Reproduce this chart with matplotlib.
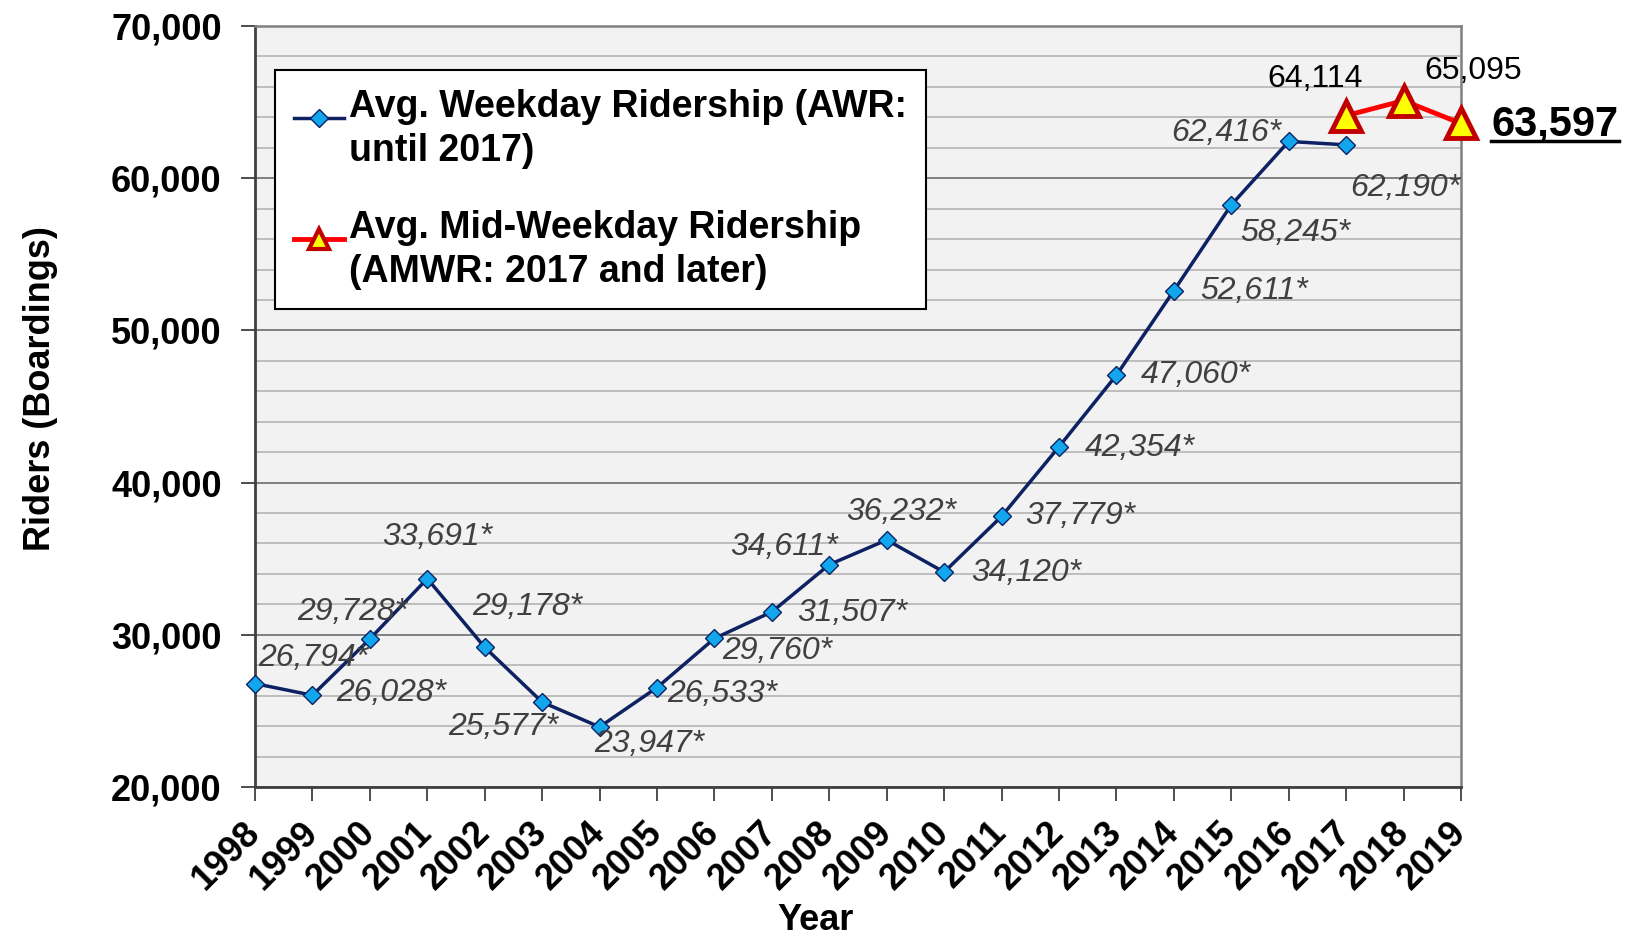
import matplotlib
matplotlib.use("Agg")
import matplotlib.pyplot as plt
from matplotlib.lines import Line2D
from matplotlib.ticker import MultipleLocator
from matplotlib.legend_handler import HandlerLine2D

plt.rcParams['font.family'] = ['Liberation Sans', 'DejaVu Sans']

years = list(range(1998, 2020))
awr_years = list(range(1998, 2018))
awr_values = [26794, 26028, 29728, 33691, 29178, 25577, 23947, 26533, 29760, 31507,
              34611, 36232, 34120, 37779, 42354, 47060, 52611, 58245, 62416, 62190]
amwr_years = [2017, 2018, 2019]
amwr_values = [64114, 65095, 63597]
y_ticks = [20000, 30000, 40000, 50000, 60000, 70000]

legend_labels = ["Avg. Weekday Ridership (AWR:\nuntil 2017)",
                 "Avg. Mid-Weekday Ridership\n(AMWR: 2017 and later)"]

# label placement (pixels from the point)
awr_offsets = [(58, 26), (79, 2), (-18, 27), (10, 42), (43, 40), (-39, -25), (50, -17),
               (65, -6), (63, -13), (80, -1), (-45, 18), (15, 28), (82, -1), (79, 0),
               (81, -1), (79, 0), (80, 0), (64, -28), (-62, 8), (59, -43)]
amwr_offsets = [(-31, 37), (70, 30), (94, -1)]

LEG_LINESPACING = 1.28


class RaisedHandler(HandlerLine2D):
    # put the legend symbol on the first line of a two-line label
    def create_artists(self, legend, orig_handle, xdescent, ydescent, width, height,
                       fontsize, trans):
        lift = LEG_LINESPACING / 2 * fontsize
        return super().create_artists(legend, orig_handle, xdescent, ydescent - lift,
                                      width, height, fontsize, trans)


navy = '#0D2163'
fig = plt.figure(figsize=(16.45, 9.38), dpi=100)
ax = fig.add_axes([255 / 1645, 1 - 787 / 938, 1206 / 1645, 761 / 938])
ax.set_facecolor('#F2F2F2')

ax.set_xlim(1998, 2019)
ax.set_ylim(20000, 70000)
ax.yaxis.set_minor_locator(MultipleLocator(2000))
ax.set_yticks(y_ticks, labels=[f"{v:,}" for v in y_ticks], fontweight='bold', fontsize=26)
ax.set_xticks(years, labels=[str(y) for y in years], fontweight='bold', fontsize=26,
              rotation=45, ha='right', va='center', rotation_mode='anchor')

ax.grid(which='minor', axis='y', color='#BDBDBD', lw=1.4)
ax.grid(which='major', axis='y', color='#808080', lw=1.4)
ax.grid(axis='x', visible=False)
ax.set_axisbelow(True)
ax.tick_params(axis='y', which='minor', length=0)
ax.tick_params(axis='y', which='major', direction='out', length=10, width=1.3,
               color='#404040', pad=14)
ax.tick_params(axis='x', direction='out', length=10, width=1.3, color='#404040', pad=19)

for side in ['left', 'bottom']:
    ax.spines[side].set_color('#404040')
    ax.spines[side].set_linewidth(2)
for side in ['top', 'right']:
    ax.spines[side].set_color('#808080')
    ax.spines[side].set_linewidth(1.8)

ax.plot(awr_years, awr_values, color=navy, lw=2.5, marker='D', ms=9,
        mfc='#12A6EC', mec=navy, mew=1, zorder=3, clip_on=False)
ax.plot(amwr_years, amwr_values, color='#FF0000', lw=3.5, marker='^', ms=21,
        mfc='#FFFF00', mec='#C00000', mew=3.5, zorder=4, clip_on=False)

for x, v, off in zip(awr_years, awr_values, awr_offsets):
    ax.annotate(f"{v:,}*", (x, v), xytext=off, textcoords='offset pixels',
                ha='center', va='center', fontsize=23, style='italic', color='#404040')

for i, (x, v, off) in enumerate(zip(amwr_years, amwr_values, amwr_offsets)):
    if i == len(amwr_years) - 1:
        last = ax.annotate(f"{v:,}", (x, v), xytext=off, textcoords='offset pixels',
                           ha='center', va='center', fontsize=30, fontweight='bold',
                           color='black', annotation_clip=False)
    else:
        ax.annotate(f"{v:,}", (x, v), xytext=off, textcoords='offset pixels',
                    ha='center', va='center', fontsize=23, color='black',
                    annotation_clip=False)

handles = [Line2D([], [], color=navy, lw=2.5, marker='D', ms=9, mfc='#12A6EC', mec=navy, mew=1),
           Line2D([], [], color='#FF0000', lw=3.5, marker='^', ms=14, mfc='#FFFF00',
                  mec='#C00000', mew=3)]
leg = ax.legend(handles, legend_labels, loc='upper left', bbox_to_anchor=(0.0166, 0.942),
                borderaxespad=0, prop={'weight': 'bold', 'size': 27}, fancybox=False,
                edgecolor='black', facecolor='white', framealpha=1, handlelength=1.35,
                handletextpad=0.12, labelspacing=1.1, borderpad=0.5,
                handler_map={Line2D: RaisedHandler()})
leg.get_frame().set_linewidth(1.5)
for t in leg.get_texts():
    t.set_linespacing(LEG_LINESPACING)

ax.set_ylabel('Riders (Boardings)', fontsize=26, fontweight='bold')
ax.yaxis.set_label_coords(-0.163, 0.524)
ax.set_xlabel('Year', fontsize=26, fontweight='bold')
ax.xaxis.set_label_coords(0.465, -0.152)

# underline the latest value
fig.canvas.draw()
bb = last.get_window_extent()
inv = fig.transFigure.inverted()
(x0, y0), (x1, _) = inv.transform([(bb.x0, bb.y0 + 3), (bb.x1, bb.y0 + 3)])
fig.add_artist(Line2D([x0, x1], [y0, y0], color='black', lw=2.5))

fig.savefig('out.png', dpi=100)
